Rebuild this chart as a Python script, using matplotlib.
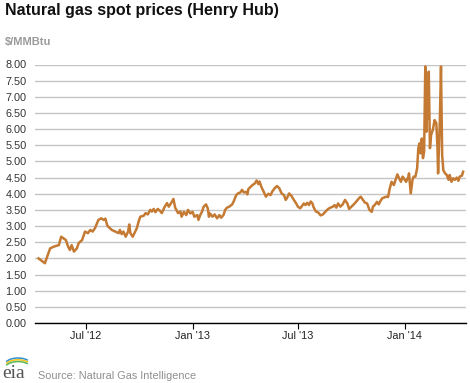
# plot.py
#
# Natural gas spot prices (Henry Hub), daily, Apr 2012 - Apr 2014

import datetime as dt
import matplotlib
matplotlib.use('Agg')
import matplotlib.pyplot as plt
from matplotlib.patches import Arc

plt.rcParams['font.family'] = ['Liberation Sans', 'DejaVu Sans']

# Data: days since 2012-04-01 and price in $/MMBtu
start_date = dt.date(2012, 4, 1)
day_offsets = [
    10, 16, 21, 27, 30, 36, 41, 45, 49, 53, 57, 61, 64, 67, 71, 76, 79, 85,
    90, 95, 99, 103, 107, 113, 118, 122, 125, 128, 130, 136, 142, 148, 150,
    153, 156, 160, 164, 166, 168, 172, 175, 179, 182, 185, 191, 194, 198,
    202, 205, 208, 211, 215, 219, 222, 227, 231, 234, 238, 242, 245, 250,
    254, 256, 260, 264, 267, 271, 275, 278, 283, 285, 288, 291, 294, 298,
    301, 303, 305, 309, 313, 317, 321, 324, 328, 331, 334, 338, 343, 346,
    350, 353, 357, 360, 363, 367, 369, 371, 374, 378, 382, 385, 388, 390,
    393, 397, 401, 405, 409, 412, 416, 420, 424, 428, 432, 435, 437, 441,
    445, 449, 453, 456, 460, 463, 466, 469, 472, 475, 478, 481, 483, 487,
    491, 495, 499, 503, 508, 512, 516, 519, 522, 525, 529, 533, 537, 541,
    544, 548, 552, 556, 561, 564, 568, 571, 575, 579, 583, 585, 588, 592,
    595, 598, 601, 604, 608, 611, 614, 617, 621, 624, 627, 630, 633, 636,
    638, 642, 646, 647, 650, 653, 655, 658, 661, 663, 665, 667, 669, 671,
    673, 675, 677, 678, 680, 681, 683, 685, 688, 691, 694, 696, 697, 700,
    702, 704, 706, 709, 712, 715, 717, 720, 723, 726, 729, 732, 734, 738,
    740,
]
prices = [
    2.00, 1.92, 1.85, 2.16, 2.31, 2.36, 2.39, 2.41, 2.67, 2.62, 2.57, 2.36,
    2.26, 2.41, 2.21, 2.31, 2.47, 2.57, 2.83, 2.78, 2.88, 2.83, 2.93, 3.19,
    3.24, 3.19, 3.23, 3.03, 2.98, 2.88, 2.83, 2.78, 2.88, 2.75, 2.83, 2.67,
    2.83, 3.05, 2.78, 2.67, 2.78, 2.93, 3.13, 3.29, 3.32, 3.40, 3.36, 3.50,
    3.45, 3.53, 3.43, 3.53, 3.47, 3.40, 3.60, 3.71, 3.60, 3.71, 3.84, 3.57,
    3.40, 3.45, 3.29, 3.44, 3.34, 3.50, 3.39, 3.44, 3.29, 3.34, 3.19, 3.34,
    3.44, 3.60, 3.67, 3.55, 3.29, 3.39, 3.29, 3.36, 3.24, 3.34, 3.26, 3.34,
    3.50, 3.57, 3.60, 3.67, 3.78, 3.96, 4.01, 4.04, 4.12, 4.04, 4.06, 3.98,
    4.15, 4.20, 4.27, 4.32, 4.41, 4.30, 4.38, 4.22, 4.07, 3.91, 4.00, 3.96,
    4.07, 4.17, 4.24, 4.17, 4.01, 3.96, 3.81, 3.86, 4.01, 3.93, 3.81, 3.70,
    3.60, 3.55, 3.62, 3.70, 3.65, 3.72, 3.65, 3.76, 3.70, 3.58, 3.45, 3.42,
    3.33, 3.36, 3.44, 3.53, 3.57, 3.60, 3.65, 3.57, 3.70, 3.60, 3.67, 3.81,
    3.70, 3.53, 3.60, 3.67, 3.75, 3.86, 3.91, 3.81, 3.73, 3.70, 3.50, 3.44,
    3.60, 3.65, 3.75, 3.67, 3.78, 3.86, 3.88, 3.91, 3.90, 4.17, 4.37, 4.27,
    4.43, 4.60, 4.48, 4.37, 4.53, 4.48, 4.37, 4.53, 4.63, 4.01, 4.43, 4.53,
    4.53, 4.79, 5.41, 5.56, 5.25, 5.71, 5.10, 5.30, 7.94, 5.92, 7.47, 6.34,
    7.78, 5.41, 5.82, 5.98, 6.28, 6.18, 5.41, 4.63, 6.23, 7.94, 5.20, 4.73,
    4.63, 4.58, 4.43, 4.58, 4.37, 4.48, 4.43, 4.50, 4.40, 4.53, 4.56, 4.68,
]
dates = [start_date + dt.timedelta(days=d) for d in day_offsets]

tick_dates = [dt.date(2012, 7, 1), dt.date(2013, 1, 1),
              dt.date(2013, 7, 1), dt.date(2014, 1, 1)]
tick_labels = ["Jul '12", "Jan '13", "Jul '13", "Jan '14"]
y_ticks = [0.5 * i for i in range(17)]

# Set up figure (470 x 383 px)
W, H = 470, 383
fig = plt.figure(figsize=(W / 100, H / 100), dpi=100)
fig.patch.set_facecolor('white')

# Plot area in pixel coordinates
left, right, top, bottom = 35, 466, 64.5, 323
ax = fig.add_axes([left / W, 1 - bottom / H, (right - left) / W, (bottom - top) / H])

ax.plot(dates, prices, color='#c47a33', lw=1.8, solid_joinstyle='round')

ax.set_ylim(0, 8)
ax.set_xlim(dt.date(2012, 4, 5), dt.date(2014, 4, 16))

# horizontal grid only
ax.set_yticks(y_ticks)
ax.set_yticklabels(['%.2f' % v for v in y_ticks])
ax.yaxis.grid(True, color='#c4c4c4', lw=1.0)
ax.set_axisbelow(True)
ax.tick_params(axis='y', length=0, pad=6, labelsize=7.8, labelcolor='#333333')

ax.set_xticks(tick_dates)
ax.set_xticklabels(tick_labels)
ax.tick_params(axis='x', length=4, width=0.8, color='black', pad=2,
               labelsize=7.8, labelcolor='#222222')

for s in ['top', 'right', 'left']:
    ax.spines[s].set_visible(False)
ax.spines['bottom'].set_color('black')
ax.spines['bottom'].set_linewidth(1.0)

# Titles
fig.text(5 / W, 1 - 3 / H, 'Natural gas spot prices (Henry Hub)', ha='left', va='top',
         fontsize=11.5, fontweight='bold', color='#111111')
fig.text(5 / W, 1 - 37 / H, '$/MMBtu', ha='left', va='top',
         fontsize=8, fontweight='bold', color='#9a9a9a')

# Source line
fig.text(38 / W, 1 - 379 / H, 'Source: Natural Gas Intelligence', ha='left', va='baseline',
         fontsize=7.8, color='#8f8f8f')

# eia logo (text plus coloured arcs)
fig.text(2 / W, 1 - 382.5 / H, 'eia', ha='left', va='bottom', fontsize=14,
         family=['Liberation Serif', 'DejaVu Serif'], color='#555555')
lax = fig.add_axes([0, 0, 1, 1], facecolor='none')
lax.set_xlim(0, W)
lax.set_ylim(H, 0)
lax.axis('off')
for dy, c in [(0, '#2e8fd0'), (1.8, '#f2c21b'), (3.6, '#5cb85c')]:
    lax.add_patch(Arc((18, 366 + dy), 28, 16, theta1=200, theta2=330,
                      color=c, lw=1.1))

fig.savefig('out.png', dpi=100)
